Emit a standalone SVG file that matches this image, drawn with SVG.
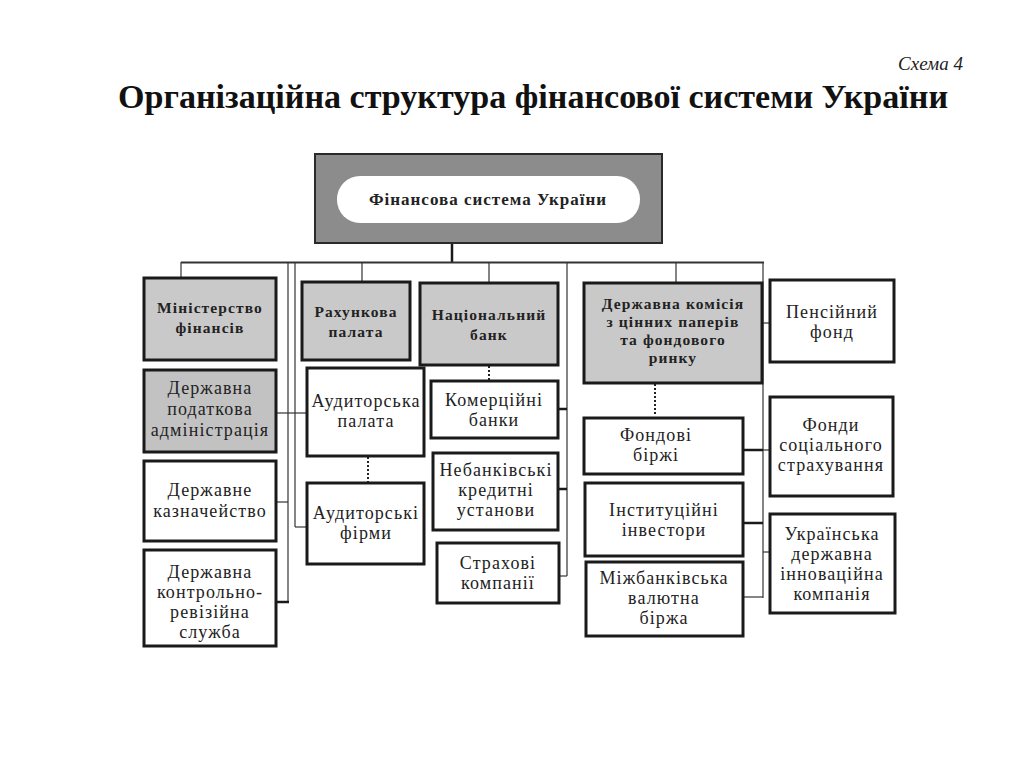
<svg xmlns="http://www.w3.org/2000/svg" width="1024" height="768" viewBox="0 0 1024 768">
<style>
.bx{stroke:#1a1a1a;stroke-width:3;fill:#fff}
.gr{fill:#c9c9c9}
.t{font-family:"Liberation Serif","Times New Roman",serif;font-size:18px;letter-spacing:1.1px;fill:#222;text-anchor:middle}
.b{font-weight:bold;font-size:15.5px;letter-spacing:1.1px}
.ln{stroke:#333;stroke-width:1.2;fill:none}
.tk{stroke:#1a1a1a;stroke-width:2.5;fill:none}
.dt{stroke:#222;stroke-width:2;stroke-dasharray:2,2;fill:none}
</style>
<rect width="1024" height="768" fill="#fff"/>
<text x="963" y="70" font-family="Liberation Serif,serif" font-style="italic" font-size="19" text-anchor="end" fill="#222">Схема 4</text>
<text x="118" y="108" font-family="Liberation Serif,serif" font-weight="bold" font-size="33" textLength="830" lengthAdjust="spacingAndGlyphs" fill="#111">Організаційна структура фінансової системи України</text>

<g id="connectors">
<line class="tk" x1="452" y1="243" x2="452" y2="263"/>
<line class="ln" x1="181" y1="262.5" x2="764" y2="262.5" style="stroke-width:2"/>
<line class="ln" x1="181" y1="262" x2="181" y2="278"/>
<line class="ln" x1="288" y1="262" x2="288" y2="602"/>
<line class="ln" x1="295" y1="262" x2="295" y2="527"/>
<line class="ln" x1="362" y1="262" x2="362" y2="282"/>
<line class="ln" x1="489" y1="262" x2="489" y2="283"/>
<line class="ln" x1="567" y1="262" x2="567" y2="576"/>
<line class="ln" x1="676" y1="262" x2="676" y2="283"/>
<line class="ln" x1="763" y1="262" x2="763" y2="598"/>
<line class="ln" x1="276" y1="413" x2="307" y2="413"/>
<line class="ln" x1="276" y1="502" x2="288" y2="502"/>
<line class="ln" x1="295" y1="527" x2="307" y2="527"/>
<line class="tk" x1="276" y1="602" x2="289" y2="602"/>
<line class="tk" x1="558" y1="409" x2="567" y2="409"/>
<line class="tk" x1="558" y1="489" x2="567" y2="489"/>
<line class="ln" x1="559" y1="576" x2="567" y2="576"/>
<line class="tk" x1="743" y1="450" x2="763" y2="450"/>
<line class="ln" x1="763" y1="450" x2="770" y2="450"/>
<line class="tk" x1="743" y1="523" x2="763" y2="523"/>
<line class="ln" x1="743" y1="597" x2="763" y2="597"/>
<line class="ln" x1="763" y1="323" x2="770" y2="323"/>
<line class="ln" x1="763" y1="552" x2="770" y2="552"/>
<line class="dt" x1="368" y1="457" x2="368" y2="482"/>
<line class="dt" x1="489" y1="366" x2="489" y2="380"/>
<line class="dt" x1="655" y1="384" x2="655" y2="416"/>
</g>

<g id="root">
<rect x="315" y="154" width="347" height="89" fill="#8c8c8c" stroke="#2a2a2a" stroke-width="2"/>
<rect x="337" y="176" width="303" height="47" rx="23" fill="#fff"/>
<text class="t b" x="488" y="205" style="font-size:17px;letter-spacing:1px">Фінансова система України</text>
</g>

<g id="minfin"><rect class="bx gr" x="144" y="278" width="132" height="82"/>
<text class="t b"><tspan x="210" y="313">Міністерство</tspan><tspan x="210" y="333">фінансів</tspan></text></g>
<g id="dpa"><rect class="bx" x="144" y="370" width="132" height="82" style="fill:#c2c2c2"/>
<text class="t"><tspan x="210" y="394">Державна</tspan><tspan x="210" y="415">податкова</tspan><tspan x="210" y="436">адміністрація</tspan></text></g>
<g id="kazna"><rect class="bx" x="144" y="461" width="132" height="80"/>
<text class="t"><tspan x="210" y="496">Державне</tspan><tspan x="210" y="517">казначейство</tspan></text></g>
<g id="dkrs"><rect class="bx" x="144" y="550" width="132" height="96"/>
<text class="t"><tspan x="210" y="578">Державна</tspan><tspan x="210" y="598">контрольно-</tspan><tspan x="210" y="618">ревізійна</tspan><tspan x="210" y="638">служба</tspan></text></g>

<g id="rakhunkova"><rect class="bx gr" x="302" y="282" width="108" height="78"/>
<text class="t b"><tspan x="356" y="317">Рахункова</tspan><tspan x="356" y="337">палата</tspan></text></g>
<g id="audpalata"><rect class="bx" x="307" y="368" width="117" height="88"/>
<text class="t"><tspan x="366" y="407">Аудиторська</tspan><tspan x="366" y="427">палата</tspan></text></g>
<g id="audfirmy"><rect class="bx" x="307" y="483" width="117" height="81"/>
<text class="t"><tspan x="366" y="519">Аудиторські</tspan><tspan x="366" y="539">фірми</tspan></text></g>

<g id="nbu"><rect class="bx gr" x="420" y="283" width="138" height="82"/>
<text class="t b"><tspan x="489" y="320">Національний</tspan><tspan x="489" y="340">банк</tspan></text></g>
<g id="kombanky"><rect class="bx" x="431" y="381" width="127" height="57"/>
<text class="t"><tspan x="494" y="406">Комерційні</tspan><tspan x="494" y="426">банки</tspan></text></g>
<g id="nebank"><rect class="bx" x="433" y="453" width="125" height="77"/>
<text class="t"><tspan x="496" y="476">Небанківські</tspan><tspan x="496" y="496">кредитні</tspan><tspan x="496" y="516">установи</tspan></text></g>
<g id="strakh"><rect class="bx" x="437" y="543" width="122" height="60"/>
<text class="t"><tspan x="498" y="569">Страхові</tspan><tspan x="498" y="589">компанії</tspan></text></g>

<g id="dkcpfr"><rect class="bx gr" x="584" y="283" width="178" height="100"/>
<text class="t b"><tspan x="673" y="309">Державна комісія</tspan><tspan x="673" y="327">з цінних паперів</tspan><tspan x="673" y="345">та фондового</tspan><tspan x="673" y="363">ринку</tspan></text></g>
<g id="fondbirzhi"><rect class="bx" x="584" y="418" width="159" height="56"/>
<text class="t"><tspan x="656" y="441">Фондові</tspan><tspan x="656" y="461">біржі</tspan></text></g>
<g id="instinv"><rect class="bx" x="585" y="483" width="158" height="73"/>
<text class="t"><tspan x="664" y="516">Інституційні</tspan><tspan x="664" y="536">інвестори</tspan></text></g>
<g id="mvb"><rect class="bx" x="586" y="562" width="157" height="74"/>
<text class="t"><tspan x="664" y="584">Міжбанківська</tspan><tspan x="664" y="604">валютна</tspan><tspan x="664" y="624">біржа</tspan></text></g>

<g id="pension"><rect class="bx" x="770" y="280" width="124" height="82"/>
<text class="t"><tspan x="832" y="318">Пенсійний</tspan><tspan x="832" y="338">фонд</tspan></text></g>
<g id="fss"><rect class="bx" x="770" y="397" width="123" height="99"/>
<text class="t"><tspan x="831" y="431">Фонди</tspan><tspan x="831" y="451">соціального</tspan><tspan x="831" y="471">страхування</tspan></text></g>
<g id="udik"><rect class="bx" x="770" y="514" width="125" height="99"/>
<text class="t"><tspan x="832" y="540">Українська</tspan><tspan x="832" y="560">державна</tspan><tspan x="832" y="580">інноваційна</tspan><tspan x="832" y="600">компанія</tspan></text></g>
</svg>
